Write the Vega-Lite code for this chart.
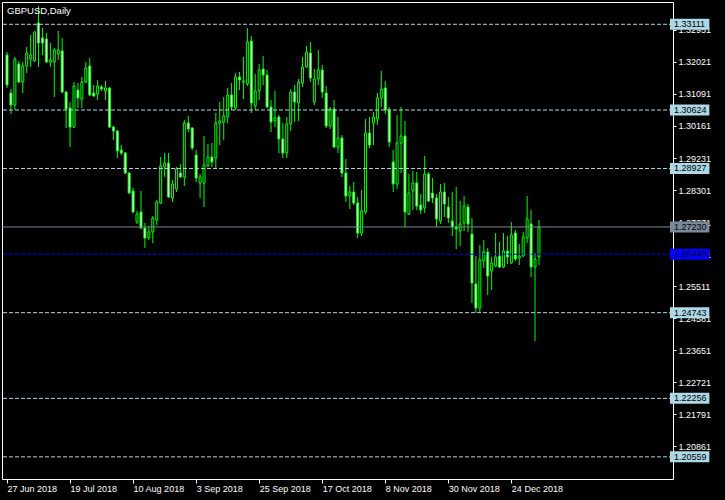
{
"$schema": "https://vega.github.io/schema/vega-lite/v6.json",
"autosize": {"type": "none"},
"width": 671,
"height": 477,
"padding": {"left": 2, "top": 2, "right": 52, "bottom": 21},
"background": "#000000",
"title": {"text": "GBPUSD,Daily", "anchor": "start", "frame": "group", "orient": "top", "offset": -11, "baseline": "alphabetic", "dx": 5, "dy": 10, "color": "#ffffff", "font": "Liberation Sans", "fontSize": 9.5, "fontWeight": "normal"},
"config": {
  "view": {"stroke": "#ffffff", "strokeWidth": 1},
  "axis": {"labelFont": "Liberation Sans", "labelFontSize": 9, "labelColor": "#ffffff", "tickColor": "#ffffff", "domain": false, "grid": false, "labelOverlap": false, "labelFlush": false, "labelBound": false}
},
"datasets": {
"candles": [
{"i":0,"date":"2018-06-27","open":1.32220,"high":1.32307,"low":1.31262,"close":1.31349},
{"i":1,"date":"2018-06-28","open":1.31117,"high":1.31233,"low":1.30508,"close":1.30769},
{"i":2,"date":"2018-06-29","open":1.30769,"high":1.32162,"low":1.30624,"close":1.32104},
{"i":3,"date":"2018-07-02","open":1.31959,"high":1.32046,"low":1.31407,"close":1.31436},
{"i":4,"date":"2018-07-03","open":1.31436,"high":1.32017,"low":1.31117,"close":1.31901},
{"i":5,"date":"2018-07-04","open":1.31901,"high":1.32452,"low":1.31698,"close":1.32278},
{"i":6,"date":"2018-07-05","open":1.32104,"high":1.32800,"low":1.31872,"close":1.32220},
{"i":7,"date":"2018-07-06","open":1.32046,"high":1.32916,"low":1.32017,"close":1.32887},
{"i":8,"date":"2018-07-09","open":1.33149,"high":1.33642,"low":1.31872,"close":1.32568},
{"i":9,"date":"2018-07-10","open":1.32713,"high":1.33003,"low":1.32220,"close":1.32568},
{"i":10,"date":"2018-07-11","open":1.32684,"high":1.32858,"low":1.31988,"close":1.32017},
{"i":11,"date":"2018-07-12","open":1.32017,"high":1.32568,"low":1.31872,"close":1.32075},
{"i":12,"date":"2018-07-13","open":1.32017,"high":1.32423,"low":1.31001,"close":1.32365},
{"i":13,"date":"2018-07-16","open":1.32249,"high":1.32916,"low":1.32075,"close":1.32365},
{"i":14,"date":"2018-07-17","open":1.32336,"high":1.32713,"low":1.31117,"close":1.31146},
{"i":15,"date":"2018-07-18","open":1.31146,"high":1.31175,"low":1.30102,"close":1.30653},
{"i":16,"date":"2018-07-19","open":1.30682,"high":1.30856,"low":1.29550,"close":1.30131},
{"i":17,"date":"2018-07-20","open":1.30131,"high":1.31436,"low":1.30102,"close":1.31320},
{"i":18,"date":"2018-07-23","open":1.31204,"high":1.31407,"low":1.30682,"close":1.30972},
{"i":19,"date":"2018-07-24","open":1.30943,"high":1.31582,"low":1.30682,"close":1.31436},
{"i":20,"date":"2018-07-25","open":1.31436,"high":1.32017,"low":1.31407,"close":1.31843},
{"i":21,"date":"2018-07-26","open":1.31901,"high":1.32133,"low":1.31030,"close":1.31059},
{"i":22,"date":"2018-07-27","open":1.31117,"high":1.31349,"low":1.31001,"close":1.31030},
{"i":23,"date":"2018-07-30","open":1.31088,"high":1.31494,"low":1.30914,"close":1.31320},
{"i":24,"date":"2018-07-31","open":1.31291,"high":1.31349,"low":1.31175,"close":1.31233},
{"i":25,"date":"2018-08-01","open":1.31175,"high":1.31465,"low":1.30914,"close":1.31262},
{"i":26,"date":"2018-08-02","open":1.31262,"high":1.31291,"low":1.30102,"close":1.30131},
{"i":27,"date":"2018-08-03","open":1.30131,"high":1.30160,"low":1.29753,"close":1.30014},
{"i":28,"date":"2018-08-06","open":1.30014,"high":1.30044,"low":1.29231,"close":1.29434},
{"i":29,"date":"2018-08-07","open":1.29463,"high":1.29608,"low":1.29318,"close":1.29376},
{"i":30,"date":"2018-08-08","open":1.29376,"high":1.29405,"low":1.28767,"close":1.28796},
{"i":31,"date":"2018-08-09","open":1.28796,"high":1.28825,"low":1.28186,"close":1.28215},
{"i":32,"date":"2018-08-10","open":1.28273,"high":1.28360,"low":1.27635,"close":1.27664},
{"i":33,"date":"2018-08-13","open":1.27374,"high":1.27693,"low":1.27316,"close":1.27606},
{"i":34,"date":"2018-08-14","open":1.27664,"high":1.28273,"low":1.27171,"close":1.27200},
{"i":35,"date":"2018-08-15","open":1.27200,"high":1.27345,"low":1.26619,"close":1.26909},
{"i":36,"date":"2018-08-16","open":1.26909,"high":1.27258,"low":1.26851,"close":1.27084},
{"i":37,"date":"2018-08-17","open":1.27084,"high":1.27548,"low":1.26764,"close":1.27490},
{"i":38,"date":"2018-08-20","open":1.27432,"high":1.28012,"low":1.27287,"close":1.27954},
{"i":39,"date":"2018-08-21","open":1.27925,"high":1.29260,"low":1.27896,"close":1.28999},
{"i":40,"date":"2018-08-22","open":1.28970,"high":1.29376,"low":1.28680,"close":1.29086},
{"i":41,"date":"2018-08-23","open":1.29086,"high":1.29376,"low":1.28070,"close":1.28099},
{"i":42,"date":"2018-08-24","open":1.28070,"high":1.28593,"low":1.27954,"close":1.28477},
{"i":43,"date":"2018-08-27","open":1.28331,"high":1.28970,"low":1.28244,"close":1.28912},
{"i":44,"date":"2018-08-28","open":1.28796,"high":1.29057,"low":1.28651,"close":1.28680},
{"i":45,"date":"2018-08-29","open":1.28680,"high":1.30334,"low":1.28418,"close":1.30247},
{"i":46,"date":"2018-08-30","open":1.30247,"high":1.30450,"low":1.29985,"close":1.30073},
{"i":47,"date":"2018-08-31","open":1.30102,"high":1.30131,"low":1.29463,"close":1.29521},
{"i":48,"date":"2018-09-03","open":1.29318,"high":1.29463,"low":1.28535,"close":1.28651},
{"i":49,"date":"2018-09-04","open":1.28506,"high":1.28767,"low":1.28070,"close":1.28680},
{"i":50,"date":"2018-09-05","open":1.28506,"high":1.29869,"low":1.27809,"close":1.29028},
{"i":51,"date":"2018-09-06","open":1.28999,"high":1.29637,"low":1.28970,"close":1.29260},
{"i":52,"date":"2018-09-07","open":1.29260,"high":1.29666,"low":1.28970,"close":1.29115},
{"i":53,"date":"2018-09-10","open":1.29231,"high":1.30537,"low":1.28941,"close":1.30247},
{"i":54,"date":"2018-09-11","open":1.30247,"high":1.30856,"low":1.29608,"close":1.30305},
{"i":55,"date":"2018-09-12","open":1.30276,"high":1.31001,"low":1.29753,"close":1.30450},
{"i":56,"date":"2018-09-13","open":1.30421,"high":1.31262,"low":1.30247,"close":1.31059},
{"i":57,"date":"2018-09-14","open":1.31059,"high":1.31407,"low":1.30624,"close":1.30711},
{"i":58,"date":"2018-09-17","open":1.30682,"high":1.31698,"low":1.30624,"close":1.31582},
{"i":59,"date":"2018-09-18","open":1.31582,"high":1.31727,"low":1.31204,"close":1.31494},
{"i":60,"date":"2018-09-19","open":1.31436,"high":1.32162,"low":1.30943,"close":1.31465},
{"i":61,"date":"2018-09-20","open":1.31378,"high":1.33003,"low":1.31320,"close":1.32597},
{"i":62,"date":"2018-09-21","open":1.32626,"high":1.32771,"low":1.30537,"close":1.30827},
{"i":63,"date":"2018-09-24","open":1.30740,"high":1.31669,"low":1.30624,"close":1.31175},
{"i":64,"date":"2018-09-25","open":1.31175,"high":1.31959,"low":1.30914,"close":1.31785},
{"i":65,"date":"2018-09-26","open":1.31814,"high":1.32191,"low":1.31349,"close":1.31640},
{"i":66,"date":"2018-09-27","open":1.31640,"high":1.31785,"low":1.30682,"close":1.30711},
{"i":67,"date":"2018-09-28","open":1.30711,"high":1.30914,"low":1.29985,"close":1.30276},
{"i":68,"date":"2018-10-01","open":1.30305,"high":1.31175,"low":1.30131,"close":1.30392},
{"i":69,"date":"2018-10-02","open":1.30421,"high":1.30479,"low":1.29376,"close":1.29782},
{"i":70,"date":"2018-10-03","open":1.29782,"high":1.30247,"low":1.29231,"close":1.29376},
{"i":71,"date":"2018-10-04","open":1.29376,"high":1.30421,"low":1.29231,"close":1.30218},
{"i":72,"date":"2018-10-05","open":1.30218,"high":1.31233,"low":1.30014,"close":1.31146},
{"i":73,"date":"2018-10-08","open":1.31146,"high":1.31349,"low":1.30276,"close":1.30856},
{"i":74,"date":"2018-10-09","open":1.30827,"high":1.31524,"low":1.30305,"close":1.31436},
{"i":75,"date":"2018-10-10","open":1.31407,"high":1.32162,"low":1.31291,"close":1.31872},
{"i":76,"date":"2018-10-11","open":1.31872,"high":1.32481,"low":1.31843,"close":1.32307},
{"i":77,"date":"2018-10-12","open":1.32278,"high":1.32597,"low":1.31436,"close":1.31553},
{"i":78,"date":"2018-10-15","open":1.30856,"high":1.31814,"low":1.30769,"close":1.31524},
{"i":79,"date":"2018-10-16","open":1.31524,"high":1.32365,"low":1.31349,"close":1.31785},
{"i":80,"date":"2018-10-17","open":1.31785,"high":1.31930,"low":1.30972,"close":1.31146},
{"i":81,"date":"2018-10-18","open":1.31117,"high":1.31320,"low":1.30102,"close":1.30160},
{"i":82,"date":"2018-10-19","open":1.30160,"high":1.30711,"low":1.30073,"close":1.30653},
{"i":83,"date":"2018-10-22","open":1.30653,"high":1.30914,"low":1.29521,"close":1.29550},
{"i":84,"date":"2018-10-23","open":1.29550,"high":1.30421,"low":1.29376,"close":1.29811},
{"i":85,"date":"2018-10-24","open":1.29811,"high":1.29898,"low":1.28680,"close":1.28796},
{"i":86,"date":"2018-10-25","open":1.28796,"high":1.29202,"low":1.27954,"close":1.28128},
{"i":87,"date":"2018-10-26","open":1.28128,"high":1.28418,"low":1.27751,"close":1.28244},
{"i":88,"date":"2018-10-29","open":1.28244,"high":1.28535,"low":1.27867,"close":1.27925},
{"i":89,"date":"2018-10-30","open":1.27925,"high":1.28099,"low":1.26909,"close":1.27055},
{"i":90,"date":"2018-10-31","open":1.27055,"high":1.28302,"low":1.26968,"close":1.27693},
{"i":91,"date":"2018-11-01","open":1.27664,"high":1.30363,"low":1.27606,"close":1.29956},
{"i":92,"date":"2018-11-02","open":1.29956,"high":1.30421,"low":1.29521,"close":1.29608},
{"i":93,"date":"2018-11-05","open":1.30247,"high":1.30566,"low":1.29608,"close":1.30421},
{"i":94,"date":"2018-11-06","open":1.30363,"high":1.31117,"low":1.30189,"close":1.30972},
{"i":95,"date":"2018-11-07","open":1.30972,"high":1.31756,"low":1.30711,"close":1.31233},
{"i":96,"date":"2018-11-08","open":1.31262,"high":1.31465,"low":1.30508,"close":1.30624},
{"i":97,"date":"2018-11-09","open":1.30624,"high":1.30711,"low":1.29550,"close":1.29695},
{"i":98,"date":"2018-11-12","open":1.29115,"high":1.29463,"low":1.28244,"close":1.28477},
{"i":99,"date":"2018-11-13","open":1.28477,"high":1.30479,"low":1.28331,"close":1.29666},
{"i":100,"date":"2018-11-14","open":1.29666,"high":1.30711,"low":1.28796,"close":1.29869},
{"i":101,"date":"2018-11-15","open":1.29869,"high":1.30305,"low":1.27229,"close":1.27664},
{"i":102,"date":"2018-11-16","open":1.27606,"high":1.28767,"low":1.27577,"close":1.28215},
{"i":103,"date":"2018-11-19","open":1.28273,"high":1.28854,"low":1.27722,"close":1.28506},
{"i":104,"date":"2018-11-20","open":1.28506,"high":1.28825,"low":1.27722,"close":1.27838},
{"i":105,"date":"2018-11-21","open":1.27867,"high":1.28186,"low":1.27606,"close":1.27722},
{"i":106,"date":"2018-11-22","open":1.27780,"high":1.29289,"low":1.27635,"close":1.28767},
{"i":107,"date":"2018-11-23","open":1.28767,"high":1.28825,"low":1.27954,"close":1.27983},
{"i":108,"date":"2018-11-26","open":1.28215,"high":1.28651,"low":1.27925,"close":1.28070},
{"i":109,"date":"2018-11-27","open":1.28070,"high":1.28186,"low":1.27229,"close":1.27461},
{"i":110,"date":"2018-11-28","open":1.27403,"high":1.28477,"low":1.27316,"close":1.28244},
{"i":111,"date":"2018-11-29","open":1.28244,"high":1.28506,"low":1.27519,"close":1.27896},
{"i":112,"date":"2018-11-30","open":1.27809,"high":1.28099,"low":1.27345,"close":1.27490},
{"i":113,"date":"2018-12-03","open":1.27403,"high":1.28244,"low":1.26968,"close":1.27229},
{"i":114,"date":"2018-12-04","open":1.27229,"high":1.28389,"low":1.26590,"close":1.27171},
{"i":115,"date":"2018-12-05","open":1.27113,"high":1.27983,"low":1.26677,"close":1.27316},
{"i":116,"date":"2018-12-06","open":1.27345,"high":1.28128,"low":1.27113,"close":1.27838},
{"i":117,"date":"2018-12-07","open":1.27809,"high":1.27896,"low":1.27084,"close":1.27316},
{"i":118,"date":"2018-12-10","open":1.27026,"high":1.27490,"low":1.25023,"close":1.25604},
{"i":119,"date":"2018-12-11","open":1.25575,"high":1.26387,"low":1.24733,"close":1.24878},
{"i":120,"date":"2018-12-12","open":1.24878,"high":1.26706,"low":1.24733,"close":1.26271},
{"i":121,"date":"2018-12-13","open":1.26242,"high":1.26851,"low":1.26039,"close":1.26503},
{"i":122,"date":"2018-12-14","open":1.26503,"high":1.26619,"low":1.25255,"close":1.25807},
{"i":123,"date":"2018-12-17","open":1.25952,"high":1.26358,"low":1.25400,"close":1.26184},
{"i":124,"date":"2018-12-18","open":1.26097,"high":1.27055,"low":1.26068,"close":1.26358},
{"i":125,"date":"2018-12-19","open":1.26387,"high":1.26794,"low":1.26039,"close":1.26068},
{"i":126,"date":"2018-12-20","open":1.26068,"high":1.27055,"low":1.26039,"close":1.26532},
{"i":127,"date":"2018-12-21","open":1.26532,"high":1.26968,"low":1.26155,"close":1.26358},
{"i":128,"date":"2018-12-24","open":1.26184,"high":1.27374,"low":1.26155,"close":1.26997},
{"i":129,"date":"2018-12-26","open":1.27055,"high":1.27142,"low":1.26242,"close":1.26300},
{"i":130,"date":"2018-12-27","open":1.26329,"high":1.26735,"low":1.26126,"close":1.26387},
{"i":131,"date":"2018-12-28","open":1.26387,"high":1.27084,"low":1.26358,"close":1.26939},
{"i":132,"date":"2018-12-31","open":1.26909,"high":1.28128,"low":1.26764,"close":1.27461},
{"i":133,"date":"2019-01-02","open":1.27316,"high":1.27722,"low":1.25778,"close":1.26068},
{"i":134,"date":"2019-01-03","open":1.26068,"high":1.26474,"low":1.23921,"close":1.26300},
{"i":135,"date":"2019-01-04","open":1.26358,"high":1.27432,"low":1.26126,"close":1.27230}
],
"levels": [
{"price":1.33111,"kind":"level"},
{"price":1.30624,"kind":"level"},
{"price":1.28927,"kind":"level"},
{"price":1.24743,"kind":"level"},
{"price":1.22256,"kind":"level"},
{"price":1.20559,"kind":"level"},
{"price":1.27230,"kind":"close"},
{"price":1.26440,"kind":"bid"}
]
},
"layer": [
{
"data": {"name": "candles"},
"mark": {"type": "rule", "color": "#00ff00", "strokeWidth": 1},
"encoding": {
  "x": {"field": "i", "type": "quantitative",
    "scale": {"domain": [0, 167.75], "nice": false, "zero": false},
    "axis": {"title": null, "orient": "bottom", "values": [0, 16, 32, 48, 64, 80, 96, 112, 128], "tickCount": 40,
      "labelExpr": "['27 Jun 2018','19 Jul 2018','10 Aug 2018','3 Sep 2018','25 Sep 2018','17 Oct 2018','8 Nov 2018','30 Nov 2018','24 Dec 2018'][round(datum.value/16)]",
      "tickSize": 4, "labelAlign": "left", "labelBaseline": "top", "labelPadding": 1}},
  "y": {"field": "low", "type": "quantitative",
    "scale": {"domain": [1.19916, 1.33758], "nice": false, "zero": false},
    "axis": {"title": null, "orient": "right", "tickCount": 40,
      "values": [1.20861, 1.21791, 1.22721, 1.23651, 1.24581, 1.25511, 1.26441, 1.27371, 1.28301, 1.29231, 1.30161, 1.31091, 1.32021, 1.32951],
      "format": ".5f", "tickSize": 3, "labelPadding": 2, "labelAlign": "left", "labelBaseline": "middle"}},
  "y2": {"field": "high"}
}
},
{
"data": {"name": "candles"},
"mark": {"type": "bar", "size": 2, "stroke": "#00ff00", "strokeWidth": 1},
"encoding": {
  "x": {"field": "i", "type": "quantitative", "axis": {"orient": "bottom", "title": null}},
  "y": {"field": "open", "type": "quantitative", "axis": {"orient": "right", "title": null}},
  "y2": {"field": "close"},
  "fill": {"condition": {"test": "datum.close < datum.open", "value": "#ffffff"}, "value": "#000000"}
}
},
{
"data": {"name": "levels"},
"mark": {"type": "rule", "strokeWidth": 1},
"encoding": {
  "y": {"field": "price", "type": "quantitative", "axis": {"orient": "right", "title": null}},
  "color": {"field": "kind", "type": "nominal", "scale": {"domain": ["level", "close", "bid"], "range": ["#add8e6", "#778899", "#0000ff"]}, "legend": null},
  "strokeDash": {"field": "kind", "type": "nominal", "scale": {"domain": ["level", "close", "bid"], "range": [[4, 2], [1, 0], [4, 2]]}, "legend": null}
}
},
{
"data": {"name": "levels"},
"mark": {"type": "rule", "strokeWidth": 11, "strokeCap": "butt"},
"encoding": {
  "x": {"datum": 168.25, "type": "quantitative", "axis": {"orient": "bottom", "title": null}},
  "x2": {"datum": 178.25},
  "y": {"field": "price", "type": "quantitative", "axis": {"orient": "right", "title": null}},
  "color": {"field": "kind", "type": "nominal", "legend": null}
}
},
{
"data": {"name": "levels"},
"mark": {"type": "text", "align": "left", "baseline": "middle", "font": "Liberation Sans", "fontSize": 9, "color": "#000000"},
"encoding": {
  "x": {"datum": 169.25, "type": "quantitative", "axis": {"orient": "bottom", "title": null}},
  "y": {"field": "price", "type": "quantitative", "axis": {"orient": "right", "title": null}},
  "text": {"field": "price", "type": "quantitative", "format": ".5f"}
}
}
]
}
